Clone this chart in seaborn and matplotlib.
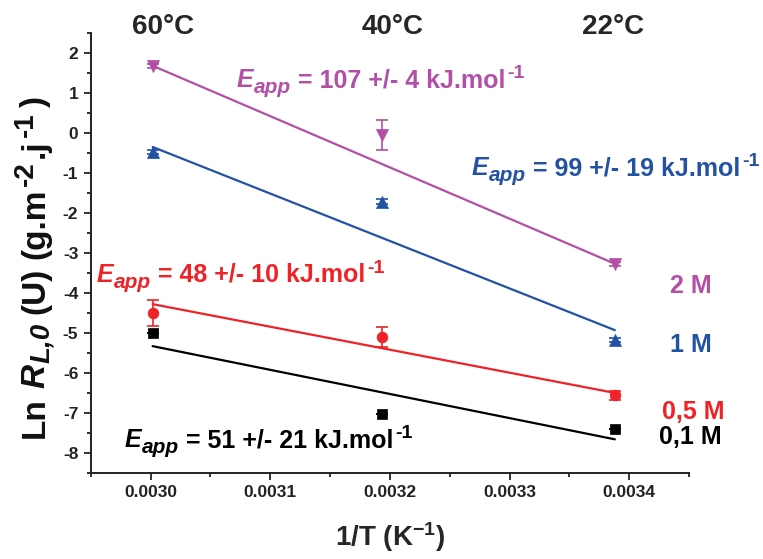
import matplotlib
matplotlib.use("Agg")
import matplotlib.pyplot as plt
import seaborn as sns
import numpy as np
import pandas as pd
from matplotlib.ticker import MultipleLocator
from matplotlib.transforms import IdentityTransform, offset_copy

sns.set_style("ticks")
plt.rcParams['font.family'] = ['Liberation Sans', 'DejaVu Sans']
plt.rcParams['font.weight'] = 'bold'
plt.rcParams['mathtext.fontset'] = 'custom'
plt.rcParams['mathtext.rm'] = 'Liberation Sans:bold'
plt.rcParams['mathtext.bf'] = 'Liberation Sans:bold'
plt.rcParams['mathtext.it'] = 'Liberation Sans:italic:bold'
plt.rcParams['mathtext.default'] = 'regular'

# ---- data ----
inv_T = [0.0030017, 0.0031934, 0.003388]
temp_labels = ['60°C', '40°C', '22°C']
concentrations = ['0,1 M', '0,5 M', '1 M', '2 M']
ln_r_01 = [-5.00, -7.03, -7.41]
ln_r_05 = [-4.50, -5.10, -6.56]
ln_r_1 = [-0.47, -1.72, -5.18]
ln_r_2 = [1.68, -0.05, -3.28]
err_01 = [0.0, 0.0, 0.0]
err_05 = [0.33, 0.25, 0.12]
err_1 = [0.05, 0.06, 0.05]
err_2 = [0.05, 0.37, 0.05]
fit_x = [0.0030017, 0.003388]
fit_01 = [-5.33, -7.66]
fit_05 = [-4.28, -6.50]
fit_1 = [-0.35, -4.93]
fit_2 = [1.68, -3.27]
eapp_labels = ['51 +/- 21', '48 +/- 10', '99 +/- 19', '107 +/- 4']

colors = {'0,1 M': '#000000', '0,5 M': '#EE2227', '1 M': '#2352A5', '2 M': '#B24FA6'}
markers = {'0,1 M': 's', '0,5 M': 'o', '1 M': '^', '2 M': 'v'}
sizes = {'0,1 M': 55, '0,5 M': 60, '1 M': 75, '2 M': 75}

values = [ln_r_01, ln_r_05, ln_r_1, ln_r_2]
errs = [err_01, err_05, err_1, err_2]
fits = [fit_01, fit_05, fit_1, fit_2]

pts = pd.DataFrame({
    'x': np.tile(inv_T, 4),
    'y': np.concatenate(values),
    'err': np.concatenate(errs),
    'conc': np.repeat(concentrations, 3),
})
fitdf = pd.DataFrame({
    'x': np.tile(fit_x, 4),
    'y': np.concatenate(fits),
    'conc': np.repeat(concentrations, 2),
})

W, H = 763, 559
fig = plt.figure(figsize=(W / 100, H / 100), dpi=100)
ax = fig.add_axes([0.119, 0.154, 0.784, 0.787])
renderer = fig.canvas.get_renderer()


def rich_text(x_px, y_px_top, pieces, rotation=0):
    """pieces: (text, size, style, shift_px, gap_before_px, color)"""
    adv = 0.0
    base = IdentityTransform()
    y_disp = H - y_px_top
    for s, size, style, shift, gap, color in pieces:
        adv += gap
        if rotation == 0:
            ox, oy = adv, shift
        else:
            ox, oy = -shift, adv
        tr = offset_copy(base, fig=fig, x=ox, y=oy, units='dots')
        t = fig.text(x_px, y_disp, s, transform=tr, fontsize=size, fontstyle=style,
                     fontweight='bold', color=color, ha='left', va='baseline',
                     rotation=rotation, rotation_mode='anchor')
        bb = t.get_window_extent(renderer)
        adv += bb.width if rotation == 0 else bb.height


sns.lineplot(data=fitdf, x='x', y='y', hue='conc', palette=colors,
             linewidth=1.6, legend=False, ax=ax, sort=False)
for c in concentrations:
    d = pts[pts['conc'] == c]
    ax.errorbar(d['x'], d['y'], yerr=d['err'], fmt='none', ecolor=colors[c],
                elinewidth=1.2, capsize=4, capthick=1.2, zorder=3)
    sns.scatterplot(data=d, x='x', y='y', color=colors[c], marker=markers[c],
                    s=sizes[c], edgecolor=colors[c], linewidth=0.5,
                    legend=False, ax=ax, zorder=4)

ax.set_xlim(0.00295, 0.00345)
ax.set_ylim(-8.5, 2.5)
ax.xaxis.set_minor_locator(MultipleLocator(0.00005))
ax.yaxis.set_minor_locator(MultipleLocator(0.5))
ax.set_xticks([0.0030, 0.0031, 0.0032, 0.0033, 0.0034])
ax.set_xticklabels(['0.0030', '0.0031', '0.0032', '0.0033', '0.0034'])
ax.set_yticks(list(range(-8, 3)))
ax.set_yticklabels([str(v) for v in range(-8, 3)])
for lab in ax.get_xticklabels() + ax.get_yticklabels():
    lab.set_fontweight('bold')
    lab.set_fontsize(12.5)
ax.tick_params(which='major', direction='out', length=5, width=1.3, pad=4, colors='#222222')
ax.tick_params(which='minor', direction='out', length=3, width=1.3, colors='#222222')
for s in ['top', 'right']:
    ax.spines[s].set_visible(False)
for s in ['left', 'bottom']:
    ax.spines[s].set_linewidth(1.4)
    ax.spines[s].set_color('#222222')

ax.set_xlabel('1/T (K$^{-1}$)', fontsize=20, fontweight='bold', labelpad=14)
ax.set_ylabel('')

# y label built from pieces (rotated)
k = '#111111'
rich_text(44, 438, [
    ('Ln', 24, 'normal', 0, 0, k),
    ('R', 24, 'italic', 0, 9, k),
    ('L,0', 20, 'italic', -5, 1, k),
    ('(U)', 24, 'normal', 0, 9, k),
    ('(g.m', 24, 'normal', 0, 9, k),
    ('-2', 20, 'normal', 11, 2, k),
    ('.j', 24, 'normal', 0, 3, k),
    ('-1', 20, 'normal', 11, 3, k),
    (')', 24, 'normal', 0, 4, k),
], rotation=90)

# temperature labels
temp_pos = [0.0030102, 0.0032019, 0.0033868]
for xp, t in zip(temp_pos, temp_labels):
    ax.text(xp, 2.64, t, ha='center', va='center', fontsize=20, fontweight='bold',
            clip_on=False)

# E_app annotations (pixel anchors: left, baseline)
eapp_pos = [(125, 447), (97, 282), (472, 175), (237, 87)]
for c, lab, (xp, yp) in zip(concentrations, eapp_labels, eapp_pos):
    rich_text(xp, yp, [
        ('E', 18, 'italic', 0, 0, colors[c]),
        ('app', 15, 'italic', -6, 0, colors[c]),
        ('= ' + lab + ' kJ.mol', 18, 'normal', 0, 7, colors[c]),
        ('-1', 14, 'normal', 9, 2, colors[c]),
    ])

# concentration labels
conc_pos = [(0.0034512, -7.61), (0.0034537, -6.98), (0.0034512, -5.30), (0.0034512, -3.82)]
for c, (xp, yp) in zip(concentrations, conc_pos):
    ax.text(xp, yp, c, color=colors[c], fontsize=18, fontweight='bold',
            ha='center', va='center', clip_on=False)

fig.savefig('out.png', dpi=100)
